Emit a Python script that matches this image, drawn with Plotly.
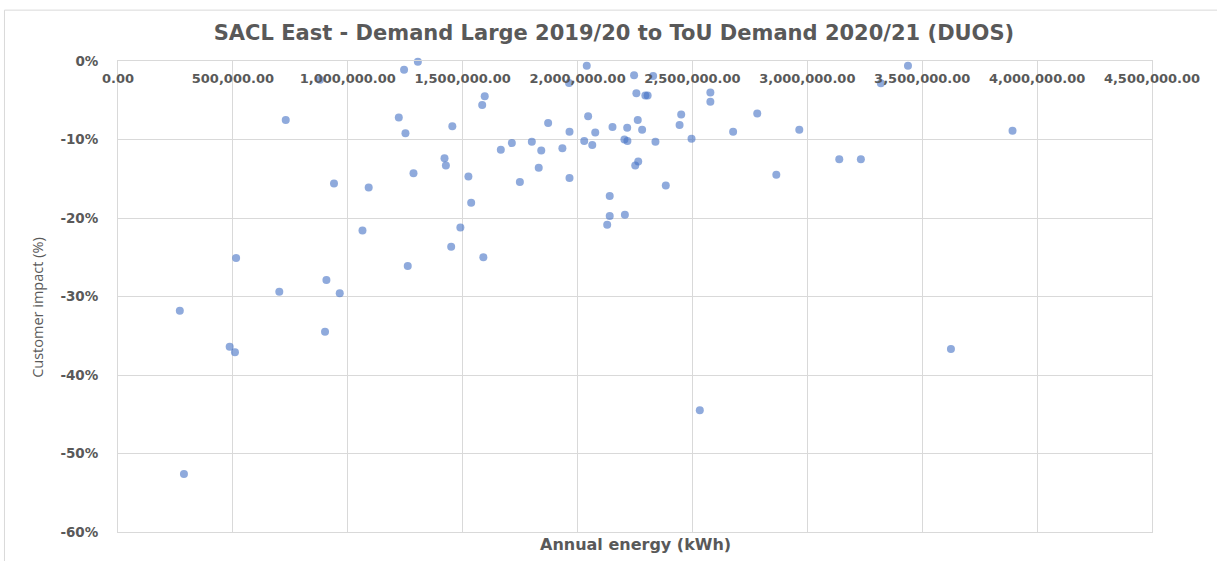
import plotly.graph_objects as go

# Annual energy (kWh) and customer impact (%) per customer
annual_energy = [
    1305000, 1245000, 879000, 730000, 1222000, 1251000, 940000, 1091000, 1286000, 1064000,
    514000, 1261000, 907000, 702000, 965000, 269000, 287000, 486000, 509000, 901000,
    2532000, 3625000, 2040000, 2246000, 2329000, 1963000, 1596000, 1585000, 2256000, 2295000,
    2305000, 2578000, 2578000, 2782000, 2965000, 2677000, 2496000, 2451000, 2444000, 2339000,
    2262000, 2281000, 2216000, 2204000, 2217000, 2152000, 2077000, 2046000, 1965000, 2029000,
    2064000, 1934000, 1872000, 1801000, 1842000, 1714000, 1666000, 1455000, 1421000, 1427000,
    1525000, 1537000, 1490000, 1450000, 1590000, 1749000, 1831000, 1965000, 2264000, 2251000,
    2384000, 2140000, 2140000, 2206000, 2129000, 2865000, 3438000, 3320000, 3893000, 3139000,
    3233000,
]
customer_impact = [
    -0.1, -1.1, -2.4, -7.5, -7.2, -9.2, -15.6, -16.1, -14.3, -21.6,
    -25.1, -26.1, -27.9, -29.4, -29.6, -31.8, -52.6, -36.4, -37.1, -34.5,
    -44.5, -36.7, -0.6, -1.8, -1.9, -2.8, -4.5, -5.6, -4.1, -4.4,
    -4.4, -4.0, -5.2, -6.7, -8.75, -9.0, -9.9, -6.8, -8.15, -10.3,
    -7.5, -8.75, -8.5, -10.0, -10.2, -8.4, -9.1, -7.05, -9.0, -10.2,
    -10.7, -11.1, -7.9, -10.3, -11.4, -10.45, -11.3, -8.3, -12.4, -13.3,
    -14.7, -18.05, -21.2, -23.65, -25.0, -15.4, -13.6, -14.9, -12.8, -13.3,
    -15.85, -17.2, -19.75, -19.6, -20.85, -14.5, -0.6, -2.85, -8.9, -12.5,
    -12.5,
]

y_ticks = [0, -10, -20, -30, -40, -50, -60]
y_tick_labels = ["0%", "-10%", "-20%", "-30%", "-40%", "-50%", "-60%"]

text_grey = "#595959"
grid_grey = "#D9D9D9"

fig = go.Figure(
    go.Scatter(
        x=annual_energy,
        y=customer_impact,
        mode="markers",
        marker=dict(color="#4472C4", opacity=0.6, size=8),
        cliponaxis=False,
        showlegend=False,
    )
)

fig.update_layout(
    width=1217,
    height=561,
    margin=dict(l=118, r=65, t=61, b=29),
    paper_bgcolor="white",
    plot_bgcolor="white",
    title=dict(
        text="SACL East - Demand Large 2019/20 to ToU Demand 2020/21 (DUOS)",
        x=0.5045,
        xanchor="center",
        y=1 - 33 / 561,
        yanchor="middle",
        font=dict(family="DejaVu Sans", size=21, color=text_grey, weight="bold"),
    ),
    xaxis=dict(
        range=[0, 4500000],
        dtick=500000,
        tickformat=",.2f",
        side="top",
        ticklabelstandoff=-28,
        tickfont=dict(family="DejaVu Sans", size=13, color=text_grey, weight="bold"),
        showgrid=True,
        gridcolor=grid_grey,
        zeroline=True,
        zerolinecolor=grid_grey,
        showline=True,
        linecolor=grid_grey,
        mirror=True,
    ),
    yaxis=dict(
        range=[-60, 0],
        tickvals=y_ticks,
        ticktext=y_tick_labels,
        ticklabelstandoff=16,
        tickfont=dict(family="DejaVu Sans", size=13.5, color=text_grey, weight="bold"),
        showgrid=True,
        gridcolor=grid_grey,
        zeroline=True,
        zerolinecolor=grid_grey,
        showline=True,
        linecolor=grid_grey,
        mirror=True,
    ),
    shapes=[
        dict(
            type="rect", xref="paper", yref="paper",
            x0=-0.1098, x1=1.07, y0=-0.08, y1=1.108,
            line=dict(color=grid_grey, width=1),
            layer="below",
        )
    ],
    annotations=[
        dict(
            text="Customer impact (%)",
            xref="paper", yref="paper",
            x=-0.0774, y=0.478,
            xanchor="center", yanchor="middle",
            textangle=-90,
            showarrow=False,
            font=dict(family="Open Sans", size=14.5, color=text_grey),
        ),
        dict(
            text="Annual energy (kWh)",
            xref="paper", yref="paper",
            x=0.5, y=-0.0276,
            yanchor="middle",
            showarrow=False,
            font=dict(family="DejaVu Sans", size=16, color=text_grey, weight="bold"),
        ),
    ],
)

# page body margin would shift the figure by 8px
fig.write_html(
    "out.html",
    config={"displayModeBar": False},
    post_script="document.body.style.margin = '0px';",
)
